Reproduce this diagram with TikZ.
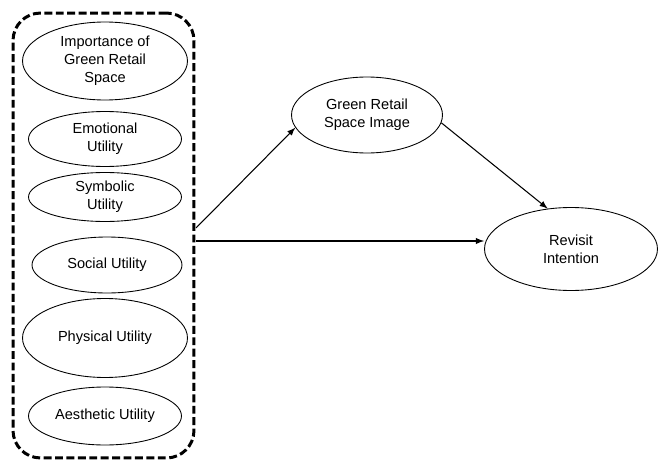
\documentclass[tikz,border=0pt]{standalone}
\usepackage{fontspec}
\setmainfont{Liberation Sans}
\usetikzlibrary{shapes.geometric}

\begin{document}
\begin{tikzpicture}[x=0.02cm, y=-0.02cm, >=latex,
  every node/.style={font=\fontsize{8.3}{10.2}\selectfont, align=center},
  factor/.style={draw, ellipse, line width=0.5pt, inner sep=0pt}]

\useasboundingbox (0,0) rectangle (660,463);

% Define the dashed block of utilities
\node[draw, dashed, line width=1.7pt, dash pattern=on 4.5pt off 2pt, rounded corners=0.55cm,
      minimum width=3.62cm, minimum height=8.9cm] (block) at (103.5,235.5) {};

% Define the factor nodes
\node[factor, minimum width=3.3cm, minimum height=1.56cm] (imp) at (105,61) {Importance of\\Green Retail\\Space};
\node[factor, minimum width=3.06cm, minimum height=1.1cm] (emo) at (105,139) {Emotional\\Utility};
\node[factor, minimum width=3.06cm, minimum height=0.98cm] (sym) at (105,197) {Symbolic\\Utility};
\node[factor, minimum width=3.0cm, minimum height=1.12cm] (soc) at (107,265) {Social Utility};
\node[factor, minimum width=3.3cm, minimum height=1.58cm] (phy) at (105,338) {Physical Utility};
\node[factor, minimum width=3.06cm, minimum height=1.16cm] (aes) at (105,416) {Aesthetic Utility};

% Image and intention
\node[factor, minimum width=3.02cm, minimum height=1.52cm] (image) at (367,115) {Green Retail\\Space Image};
\node[factor, minimum width=3.46cm, minimum height=1.66cm] (revisit) at (571,249) {Revisit\\Intention};

\coordinate (out1) at (196,228);
\coordinate (out2) at (196,241);

\draw [->, line width=0.6pt] (out1) -- (image.190);
\draw [->, line width=0.6pt] (out2) -- (revisit.west |- out2);
\draw [->, line width=0.6pt] (image.-6) -- (revisit.120);

\end{tikzpicture}
\end{document}
